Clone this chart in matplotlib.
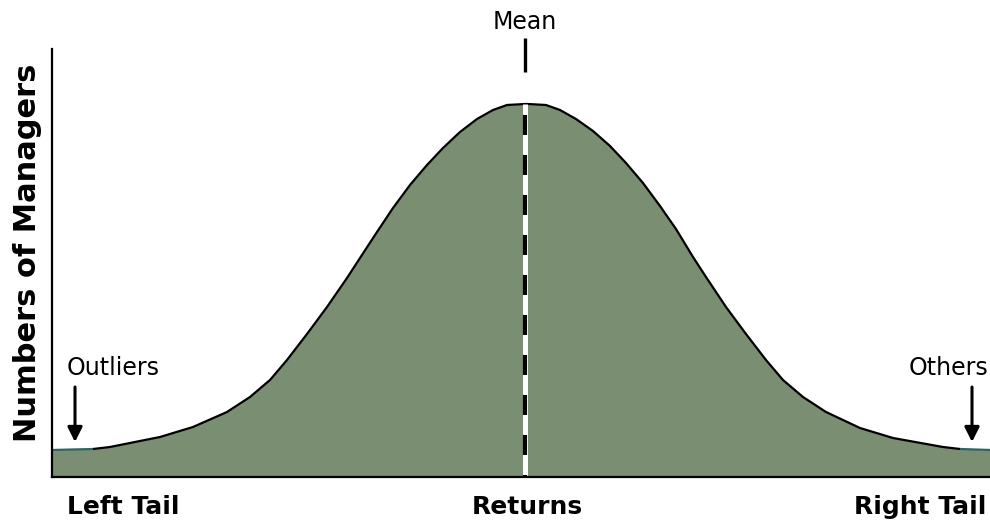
import numpy as np
import matplotlib
matplotlib.use('Agg')
import matplotlib.pyplot as plt

# bell curve: return offset from the mean vs. number of managers
left_returns = [-473, -432, -415, -365, -332, -298, -275, -255, -238, -218, -198,
                -178, -165, -148, -132, -115, -98, -82, -65, -48, -32, -18, 0]
left_managers = [0, 1, 3, 13, 23, 38, 53, 70, 90, 116, 143,
                 172, 192, 218, 242, 265, 285, 302, 318, 331, 340, 345, 346]
right_returns = [3, 21, 35, 51, 68, 85, 101, 118, 135, 151, 168, 181, 201, 221,
                 241, 258, 278, 301, 335, 368, 418, 435, 465]
right_managers = [346, 345, 340, 331, 319, 304, 287, 267, 244, 221, 193, 173, 143, 116,
                  90, 70, 53, 38, 22, 12, 3, 1, 0]
returns = left_returns + right_returns
managers = left_managers + right_managers
mean_x = 0
peak = 346

x_label = ['Left Tail', 'Returns', 'Right Tail']
y_label = 'Numbers of Managers'

green = '#7a8e72'
teal = '#2e6462'
W, H = 990, 523

plt.rcParams['lines.scale_dashes'] = False

fig = plt.figure(figsize=(W / 100, H / 100), dpi=100)
ax = fig.add_axes([52 / W, (H - 477) / H, (W - 52) / W, (477 - 49) / H])
ax.set_xlim(-473, 465)
ax.set_ylim(-27, 401)

ax.fill_between(returns, managers, -27, color=green, lw=0)
ax.plot(returns[1:-1], managers[1:-1], color='black', lw=1.6, solid_capstyle='butt')
# flat tails are drawn in a dark teal in the original
ax.plot(returns[:2], managers[:2], color=teal, lw=1.6, solid_capstyle='butt')
ax.plot(returns[-2:], managers[-2:], color=teal, lw=1.6, solid_capstyle='butt')

# mean line: white with black dashes
ax.plot([mean_x, mean_x], [peak, -27], color='white', lw=3.6, solid_capstyle='butt')
ax.plot([mean_x, mean_x], [peak, -27], color='black', lw=3.0,
        linestyle=(20.9, (14.4, 14.4)), dash_capstyle='butt')
ax.plot([mean_x, mean_x], [412, 378], color='black', lw=2.4, clip_on=False,
        solid_capstyle='butt')

for s in ['top', 'right']:
    ax.spines[s].set_visible(False)
for s in ['left', 'bottom']:
    ax.spines[s].set_linewidth(1.6)
ax.set_xticks([])
ax.set_yticks([])

# arrows at the tails
for xa in [-450, 447]:
    ax.annotate('', xy=(xa, 8), xytext=(xa, 63),
                arrowprops=dict(arrowstyle='-|>', color='black', lw=2.2,
                                mutation_scale=22, shrinkA=0, shrinkB=0))

fig.text(525 / W, 1 - 22 / H, 'Mean', ha='center', va='center', fontsize=17)
fig.text(67 / W, 1 - 368 / H, 'Outliers', ha='left', va='center', fontsize=17)
fig.text(988 / W, 1 - 368 / H, 'Others', ha='right', va='center', fontsize=17)

fig.text(67 / W, 1 - 507 / H, x_label[0], ha='left', va='center', fontsize=18, fontweight='bold')
fig.text(527 / W, 1 - 507 / H, x_label[1], ha='center', va='center', fontsize=18, fontweight='bold')
fig.text(986 / W, 1 - 507 / H, x_label[2], ha='right', va='center', fontsize=18, fontweight='bold')
fig.text(28 / W, 1 - 253 / H, y_label, ha='center', va='center', rotation=90,
         fontsize=22, fontweight='bold')

fig.savefig('out.png', dpi=100)
